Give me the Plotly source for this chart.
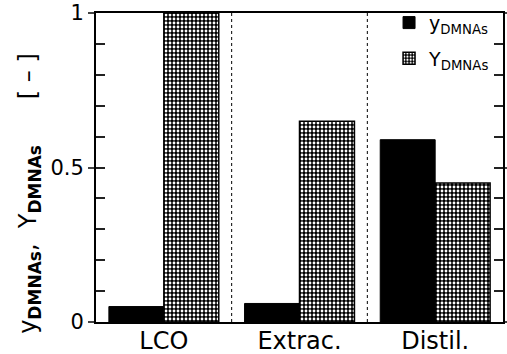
import plotly.graph_objects as go

# Data
categories = ["LCO", "Extrac.", "Distil."]
y_dmnas = [0.05, 0.06, 0.59]      # mole fraction
Y_dmnas = [1.00, 0.65, 0.45]      # recovery

FONT = "DejaVu Sans"
SUB = '<sub><span style="font-size:17px"><b>DMNAs</b></span></sub>'

fig = go.Figure()
fig.add_trace(go.Bar(
    x=categories, y=y_dmnas,
    name="y<sub>DMNAs</sub>", legendgroup="a",
    marker=dict(color="black", line=dict(color="black", width=1)),
))
fig.add_trace(go.Bar(
    x=categories, y=Y_dmnas,
    name="Y<sub>DMNAs</sub>", legendgroup="b",
    marker=dict(
        color="black",
        line=dict(color="black", width=1.5),
        pattern=dict(shape=".", fgcolor="white", bgcolor="black",
                     size=4, solidity=0.4, fillmode="replace"),
    ),
))

# empty trace that carries the inner tick axis (y2)
fig.add_trace(go.Scatter(x=categories, y=[0.5] * 3, yaxis="y2", mode="none",
                         showlegend=False, hoverinfo="skip"))

# dotted separators between the groups
for xs in [0.5, 1.5]:
    fig.add_shape(type="line", xref="x", yref="paper", x0=xs, x1=xs, y0=0, y1=1,
                  line=dict(color="black", width=1, dash="dot"))

# y-axis title as a rotated annotation
fig.add_annotation(
    xref="paper", yref="paper", x=-0.205, y=0.415,
    text="y" + SUB + ",  Y" + SUB + "      [ – ]",
    textangle=-90, showarrow=False,
    font=dict(family=FONT, size=24, color="black"),
)

fig.update_layout(
    width=507, height=354,
    margin=dict(l=96, r=4, t=13, b=32, autoexpand=False),
    paper_bgcolor="white", plot_bgcolor="white",
    barmode="group", bargap=0.19, bargroupgap=0,
    font=dict(family=FONT, color="black"),
    showlegend=True,
    legend=dict(x=0.72, y=1.03, xanchor="left", yanchor="top",
                bgcolor="rgba(0,0,0,0)", font=dict(size=19),
                itemwidth=30, tracegroupgap=8),
    xaxis=dict(
        range=[-0.5, 2.5], showline=True, linecolor="black", linewidth=2,
        mirror=True, ticks="", tickfont=dict(size=24), showgrid=False,
        automargin=False, ticklabelstandoff=-4,
    ),
    yaxis=dict(
        range=[0, 1], showline=True, linecolor="black", linewidth=2,
        mirror="ticks", ticks="outside", ticklen=6, tickwidth=1.5,
        tickmode="linear", tick0=0, dtick=0.5, tickfont=dict(size=21),
        showgrid=False, zeroline=False, automargin=False,
    ),
    # inner ticks every 0.1 on both vertical sides
    yaxis2=dict(
        range=[0, 1], overlaying="y", side="left", anchor="x", showline=False,
        mirror="ticks", ticks="inside", ticklen=9, tickwidth=1.5,
        tickcolor="#222", tickmode="linear", tick0=0, dtick=0.1,
        showticklabels=False, showgrid=False, zeroline=False,
        automargin=False,
    ),
)

fig.write_html("out.html")
